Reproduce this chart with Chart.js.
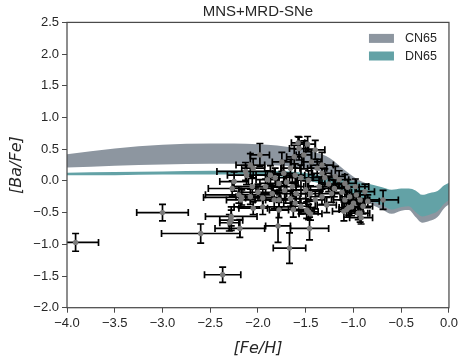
<!DOCTYPE html>
<html>
<head>
<meta charset="utf-8">
<script src="https://cdn.jsdelivr.net/npm/chart.js@4.4.1/dist/chart.umd.min.js"></script>
<style>
    html, body { margin: 0; padding: 0; background: #fff; }
</style>
</head>
<body>
<canvas id="chart" width="461" height="356"></canvas>
<script>
// model bands (x grid shared by both)
const bandX   = [-4.0, -3.5, -3.0, -2.5, -2.0, -1.6, -1.4, -1.25, -1.1, -0.95, -0.8, -0.7, -0.6, -0.5, -0.42, -0.35, -0.28, -0.2, -0.12, -0.05, 0.0]
const cnUpper = [0.42, 0.51, 0.57, 0.59, 0.58, 0.52, 0.45, 0.36, 0.18, 0.02, -0.07, -0.12, -0.17, -0.16, -0.15, -0.18, -0.24, -0.21, -0.18, -0.09, -0.06]
const cnLower = [0.21, 0.24, 0.26, 0.27, 0.26, 0.22, 0.17, 0.10, -0.05, -0.22, -0.38, -0.45, -0.52, -0.47, -0.46, -0.57, -0.66, -0.63, -0.57, -0.43, -0.37]
const dnUpper = [0.13, 0.14, 0.15, 0.16, 0.16, 0.14, 0.10, 0.06, 0.02, -0.02, -0.06, -0.10, -0.14, -0.12, -0.12, -0.15, -0.22, -0.19, -0.16, -0.07, -0.03]
const dnLower = [0.09, 0.09, 0.10, 0.10, 0.09, 0.04, -0.02, -0.08, -0.16, -0.25, -0.33, -0.38, -0.45, -0.41, -0.40, -0.49, -0.56, -0.53, -0.48, -0.36, -0.30]

// observed stars: [Fe/H], [Ba/Fe] and their errors
const obsFeH = [
    -3.91, -3.00, -2.37, -2.60, -1.79, -1.67, -1.46, -2.19, -2.28, -2.28,
    -1.45, -0.69, -2.17, -2.05, -1.95, -1.83, -1.78, -1.49, -1.63, -1.55,
    -0.93, -0.92, -1.10, -1.05, -2.27, -2.20, -2.12, -2.08, -2.30, -1.98,
    -1.57, -1.52, -1.58, -1.48, -1.40, -1.33, -2.13, -2.25, -1.87, -1.73,
    -1.61, -1.47, -1.33, -1.19, -1.09, -0.98, -0.88, -1.02, -0.95, -1.09,
    -1.23, -1.36, -1.50, -1.64, -1.78, -1.92, -2.06, -2.18, -1.95, -1.78,
    -1.61, -1.47, -1.90, -1.82, -1.70, -1.55, -1.44, -1.38, -1.30, -1.26,
    -1.20, -1.15, -1.12, -1.06, -1.04, -1.00, -0.97, -0.93, -0.90, -1.07,
    -1.45, -1.40, -1.33, -1.28, -1.60, -1.66, -1.72, -1.85, -2.00, -2.08,
    -2.05, -1.75, -1.66, -1.62, -0.85,
]
const obsBaFe = [
    -0.97, -0.50, -1.48, -0.83, -0.71, -1.06, -0.75, -0.75, -0.56, -0.62,
    -0.52, -0.30, -0.26, -0.43, -0.41, -0.30, -0.46, -0.46, -0.45, -0.40,
    -0.51, -0.58, -0.48, -0.42, -0.12, -0.22, 0.09, 0.25, -0.66, 0.41,
    0.51, 0.41, 0.60, 0.58, 0.49, 0.25, 0.15, -0.01, 0.09, 0.12,
    0.09, 0.01, 0.12, 0.07, -0.04, -0.09, -0.17, -0.41, -0.51, -0.30,
    -0.20, -0.09, -0.14, -0.09, -0.04, -0.09, -0.09, -0.30, -0.27, -0.30,
    -0.35, -0.49, 0.02, 0.05, -0.02, 0.05, 0.30, 0.20, 0.05, -0.05,
    -0.12, 0.02, -0.18, -0.10, -0.25, -0.35, -0.22, -0.30, -0.40, -0.45,
    -0.20, -0.30, -0.25, -0.38, -0.20, -0.28, -0.15, -0.20, -0.18, -0.25,
    0.20, 0.30, 0.20, 0.38, -0.32,
]
const obsErrFeH = [
    0.24, 0.27, 0.19, 0.41, 0.13, 0.17, 0.20, 0.26, 0.27, 0.12,
    0.12, 0.16, 0.40, 0.15, 0.30, 0.12, 0.10, 0.08, 0.15, 0.10,
    0.10, 0.12, 0.12, 0.10, 0.25, 0.35, 0.20, 0.15, 0.10, 0.10,
    0.10, 0.08, 0.07, 0.08, 0.10, 0.12, 0.30, 0.15, 0.15, 0.12,
    0.10, 0.12, 0.10, 0.10, 0.12, 0.14, 0.10, 0.10, 0.10, 0.12,
    0.10, 0.12, 0.15, 0.12, 0.20, 0.15, 0.20, 0.15, 0.18, 0.14,
    0.12, 0.10, 0.12, 0.10, 0.10, 0.12, 0.10, 0.10, 0.12, 0.10,
    0.12, 0.10, 0.10, 0.12, 0.10, 0.12, 0.10, 0.10, 0.10, 0.08,
    0.10, 0.10, 0.12, 0.10, 0.12, 0.10, 0.12, 0.15, 0.20, 0.15,
    0.12, 0.10, 0.10, 0.08, 0.12,
]
const obsErrBaFe = [
    0.14, 0.13, 0.12, 0.15, 0.26, 0.24, 0.18, 0.14, 0.15, 0.16,
    0.10, 0.15, 0.12, 0.10, 0.12, 0.14, 0.12, 0.13, 0.12, 0.12,
    0.14, 0.10, 0.15, 0.12, 0.12, 0.13, 0.15, 0.18, 0.13, 0.18,
    0.18, 0.22, 0.10, 0.12, 0.15, 0.20, 0.14, 0.15, 0.15, 0.20,
    0.18, 0.15, 0.15, 0.16, 0.14, 0.12, 0.12, 0.14, 0.10, 0.14,
    0.14, 0.15, 0.14, 0.16, 0.14, 0.12, 0.13, 0.12, 0.14, 0.12,
    0.12, 0.12, 0.14, 0.15, 0.14, 0.20, 0.20, 0.14, 0.14, 0.12,
    0.13, 0.14, 0.12, 0.12, 0.15, 0.12, 0.12, 0.14, 0.12, 0.12,
    0.12, 0.14, 0.12, 0.12, 0.13, 0.12, 0.14, 0.12, 0.13, 0.12,
    0.15, 0.15, 0.14, 0.18, 0.10,
]

const CN_COLOR = '#8d96a0'
const DN_COLOR = '#63a2a6'
const INK = '#262626'
const SPINE = '#4a4a4a'

const minus = v => v.toFixed(1).replace('-', '\u2212')
const points = ys => bandX.map((x, i) => ({ x, y: ys[i] }))

const band = (label, ys, fill, color, order) => ({
    type: 'line',
    label,
    data: points(ys),
    fill,
    backgroundColor: color,
    borderWidth: 0,
    pointRadius: 0,
    cubicInterpolationMode: 'monotone',
    order,
})

// error bars go under the grey markers
const errorBars = {
    id: 'errorBars',
    beforeDatasetDraw(chart, args) {
        if (chart.data.datasets[args.index].type !== 'scatter') return
        const { ctx, chartArea: a, scales: { x, y } } = chart
        ctx.save()
        ctx.beginPath()
        ctx.rect(a.left, a.top, a.right - a.left, a.bottom - a.top)
        ctx.clip()
        ctx.strokeStyle = '#000'
        ctx.lineWidth = 1.7
        const cap = 3.5
        obsFeH.forEach((fe, i) => {
            const px = x.getPixelForValue(fe)
            const py = y.getPixelForValue(obsBaFe[i])
            const x0 = x.getPixelForValue(fe - obsErrFeH[i])
            const x1 = x.getPixelForValue(fe + obsErrFeH[i])
            const y0 = y.getPixelForValue(obsBaFe[i] - obsErrBaFe[i])
            const y1 = y.getPixelForValue(obsBaFe[i] + obsErrBaFe[i])
            ctx.beginPath()
            ctx.moveTo(x0, py); ctx.lineTo(x1, py)
            ctx.moveTo(px, y0); ctx.lineTo(px, y1)
            ctx.moveTo(x0, py - cap); ctx.lineTo(x0, py + cap)
            ctx.moveTo(x1, py - cap); ctx.lineTo(x1, py + cap)
            ctx.moveTo(px - cap, y0); ctx.lineTo(px + cap, y0)
            ctx.moveTo(px - cap, y1); ctx.lineTo(px + cap, y1)
            ctx.stroke()
        })
        ctx.restore()
    },
}

const frame = {
    id: 'frame',
    afterDatasetsDraw(chart) {
        const { ctx, chartArea: a } = chart
        ctx.save()
        ctx.strokeStyle = SPINE
        ctx.lineWidth = 1.25
        ctx.strokeRect(a.left, a.top, a.right - a.left, a.bottom - a.top)
        ctx.restore()
    },
}

const bandLegend = {
    id: 'bandLegend',
    afterDraw(chart) {
        const { ctx, chartArea: a } = chart
        const entries = [['CN65', CN_COLOR], ['DN65', DN_COLOR]]
        ctx.save()
        ctx.font = '12.5px "Liberation Sans", Arial, sans-serif'
        ctx.textBaseline = 'middle'
        entries.forEach(([label, color], i) => {
            const top = a.top + 11.5 + i * 17.6
            ctx.fillStyle = color
            ctx.fillRect(a.right - 80, top, 25, 9)
            ctx.fillStyle = INK
            ctx.fillText(label, a.right - 44, top + 4.8)
        })
        ctx.restore()
    },
}

const tickFont = { family: '"Liberation Sans", Arial, sans-serif', size: 13 }
const labelFont = { family: '"DejaVu Sans", sans-serif', size: 16, style: 'italic' }

new Chart(document.getElementById('chart'), {
    type: 'line',
    data: {
        datasets: [
            band('CN65', cnUpper, '+1', CN_COLOR, 3),
            band('CN65 low', cnLower, false, CN_COLOR, 3),
            band('DN65', dnUpper, '+1', DN_COLOR, 2),
            band('DN65 low', dnLower, false, DN_COLOR, 2),
            {
                type: 'scatter',
                label: 'obs',
                data: obsFeH.map((x, i) => ({ x, y: obsBaFe[i] })),
                pointRadius: 2.7,
                pointBackgroundColor: '#7a7a7a',
                pointBorderWidth: 0,
                order: 1,
            },
        ],
    },
    options: {
        responsive: false,
        animation: false,
        events: [],
        layout: { padding: { left: 0, right: 10, top: 0, bottom: 0 } },
        plugins: {
            legend: { display: false },
            tooltip: { enabled: false },
            title: {
                display: true,
                text: 'MNS+MRD-SNe',
                fullSize: false,
                color: INK,
                font: { family: '"Liberation Sans", Arial, sans-serif', size: 15, weight: 'normal' },
                padding: { top: 2.4, bottom: 2 },
            },
        },
        scales: {
            x: {
                type: 'linear',
                min: -4, max: 0,
                afterFit: s => { s.height = 48.3 },
                border: { display: false },
                grid: { drawOnChartArea: false, tickLength: 5, tickColor: SPINE, tickWidth: 1 },
                ticks: { stepSize: 0.5, padding: 3, color: INK, font: tickFont, maxRotation: 0, callback: minus },
                title: { display: true, text: '[Fe/H]', color: INK, font: labelFont, padding: { top: 0, bottom: -2 } },
            },
            y: {
                type: 'linear',
                min: -2, max: 2.5,
                afterFit: s => { s.width = 67 },
                border: { display: false },
                grid: { drawOnChartArea: false, tickLength: 5, tickColor: SPINE, tickWidth: 1 },
                ticks: { stepSize: 0.5, padding: 3, color: INK, font: tickFont, callback: minus },
                title: { display: true, text: '[Ba/Fe]', color: INK, font: labelFont, align: 'center', padding: { top: 7, bottom: 0 } },
            },
        },
    },
    plugins: [errorBars, frame, bandLegend],
})
</script>
</body>
</html>
